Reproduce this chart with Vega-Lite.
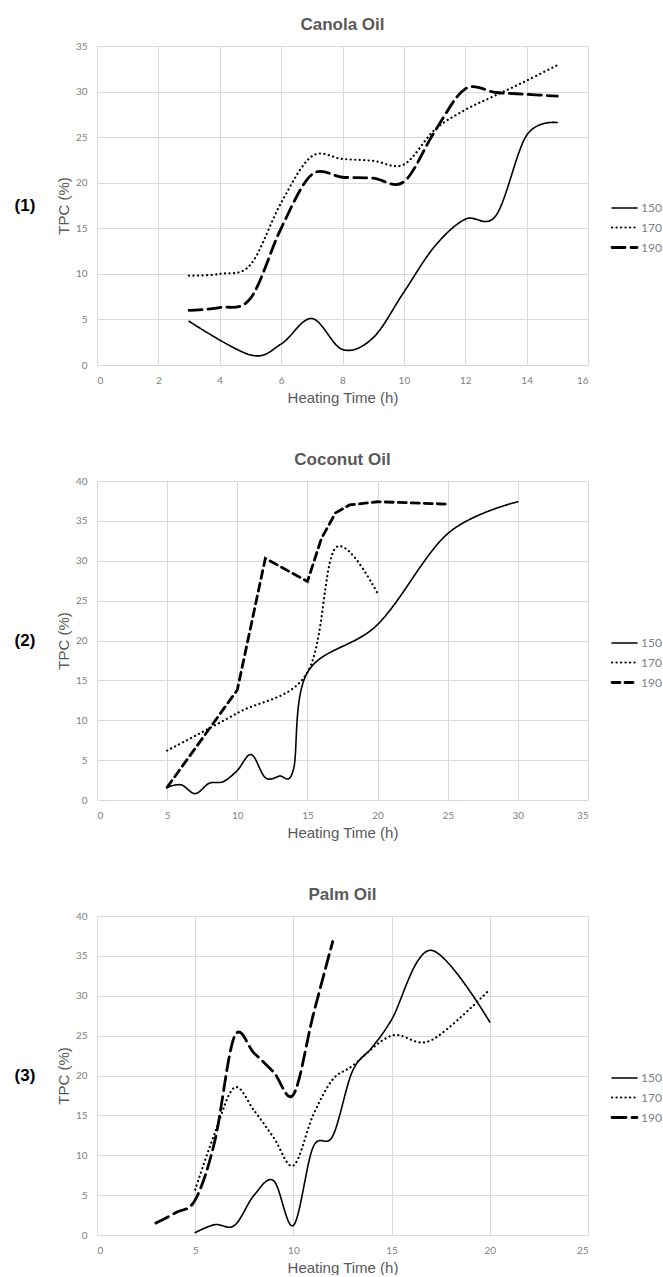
{
  "$schema": "https://vega.github.io/schema/vega-lite/v6.json",
  "padding": {"left": 0, "top": 16, "right": 0, "bottom": 0},
  "background": "white",
  "config": {
    "view": {"stroke": null},
    "font": "Liberation Sans",
    "axis": {"grid": true, "gridColor": "#d9d9d9", "gridWidth": 1, "domain": false, "ticks": false, "tickSize": 0, "labelColor": "#808080", "labelFont": "Lato", "labelFontSize": 10, "titleColor": "#595959", "titleFont": "Liberation Sans", "titleFontSize": 15, "titleFontWeight": "normal"},
    "axisX": {"labelPadding": 10, "titlePadding": 5},
    "axisY": {"labelPadding": 10, "titlePadding": 4},
    "legend": {"orient": "none", "legendX": 516, "legendY": 151, "title": null, "symbolType": "M-1.25,0H1.25", "symbolSize": 400, "symbolStrokeWidth": 2.5, "symbolStrokeColor": "#000000", "symbolFillColor": "transparent", "labelFont": "Lato", "labelFontSize": 12, "labelColor": "#808080", "rowPadding": 2, "labelOffset": 5},
    "title": {"font": "Liberation Sans", "fontSize": 17, "fontWeight": "bold", "color": "#595959", "anchor": "middle", "offset": 7}
  },
  "datasets": {
    "canola": [
      {"time": 3, "tpc": 4.8, "temp": "150"}, {"time": 5, "tpc": 1.1, "temp": "150"}, {"time": 6, "tpc": 2.3, "temp": "150"}, {"time": 7, "tpc": 5.1, "temp": "150"}, {"time": 8, "tpc": 1.7, "temp": "150"}, {"time": 9, "tpc": 3.0, "temp": "150"}, {"time": 10, "tpc": 8.0, "temp": "150"}, {"time": 11, "tpc": 13.0, "temp": "150"}, {"time": 12, "tpc": 16.0, "temp": "150"}, {"time": 13, "tpc": 16.4, "temp": "150"}, {"time": 14, "tpc": 25.2, "temp": "150"}, {"time": 15, "tpc": 26.6, "temp": "150"},
      {"time": 3, "tpc": 9.8, "temp": "170"}, {"time": 4, "tpc": 10.0, "temp": "170"}, {"time": 5, "tpc": 11.0, "temp": "170"}, {"time": 6, "tpc": 17.8, "temp": "170"}, {"time": 7, "tpc": 22.9, "temp": "170"}, {"time": 8, "tpc": 22.6, "temp": "170"}, {"time": 9, "tpc": 22.4, "temp": "170"}, {"time": 10, "tpc": 22.0, "temp": "170"}, {"time": 11, "tpc": 25.8, "temp": "170"}, {"time": 12, "tpc": 28.0, "temp": "170"}, {"time": 13, "tpc": 29.6, "temp": "170"}, {"time": 14, "tpc": 31.2, "temp": "170"}, {"time": 15, "tpc": 32.9, "temp": "170"},
      {"time": 3, "tpc": 6.0, "temp": "190"}, {"time": 4, "tpc": 6.3, "temp": "190"}, {"time": 5, "tpc": 7.3, "temp": "190"}, {"time": 6, "tpc": 15.0, "temp": "190"}, {"time": 7, "tpc": 20.9, "temp": "190"}, {"time": 8, "tpc": 20.6, "temp": "190"}, {"time": 9, "tpc": 20.5, "temp": "190"}, {"time": 10, "tpc": 20.1, "temp": "190"}, {"time": 11, "tpc": 25.6, "temp": "190"}, {"time": 12, "tpc": 30.3, "temp": "190"}, {"time": 13, "tpc": 29.9, "temp": "190"}, {"time": 14, "tpc": 29.7, "temp": "190"}, {"time": 15, "tpc": 29.5, "temp": "190"}
    ],
    "coconut": [
      {"time": 5, "tpc": 1.6, "temp": "150"}, {"time": 6, "tpc": 1.9, "temp": "150"}, {"time": 7, "tpc": 0.8, "temp": "150"}, {"time": 8, "tpc": 2.1, "temp": "150"}, {"time": 9, "tpc": 2.3, "temp": "150"}, {"time": 10, "tpc": 3.7, "temp": "150"}, {"time": 11, "tpc": 5.7, "temp": "150"}, {"time": 12, "tpc": 2.8, "temp": "150"}, {"time": 13, "tpc": 3.0, "temp": "150"}, {"time": 14, "tpc": 3.8, "temp": "150"}, {"time": 15, "tpc": 16.0, "temp": "150"}, {"time": 20, "tpc": 22.0, "temp": "150"}, {"time": 25, "tpc": 33.4, "temp": "150"}, {"time": 30, "tpc": 37.4, "temp": "150"},
      {"time": 5, "tpc": 6.2, "temp": "170"}, {"time": 10, "tpc": 10.9, "temp": "170"}, {"time": 15, "tpc": 16.0, "temp": "170"}, {"time": 17, "tpc": 31.6, "temp": "170"}, {"time": 20, "tpc": 25.9, "temp": "170"},
      {"time": 5, "tpc": 1.6, "temp": "190"}, {"time": 10, "tpc": 13.8, "temp": "190"}, {"time": 12, "tpc": 30.3, "temp": "190"}, {"time": 15, "tpc": 27.4, "temp": "190"}, {"time": 16, "tpc": 32.8, "temp": "190"}, {"time": 17, "tpc": 36.0, "temp": "190"}, {"time": 18, "tpc": 37.0, "temp": "190"}, {"time": 20, "tpc": 37.4, "temp": "190"}, {"time": 25, "tpc": 37.1, "temp": "190"}
    ],
    "palm": [
      {"time": 5, "tpc": 0.3, "temp": "150"}, {"time": 6, "tpc": 1.3, "temp": "150"}, {"time": 7, "tpc": 1.2, "temp": "150"}, {"time": 8, "tpc": 5.0, "temp": "150"}, {"time": 9, "tpc": 6.8, "temp": "150"}, {"time": 10, "tpc": 1.2, "temp": "150"}, {"time": 11, "tpc": 11.0, "temp": "150"}, {"time": 12, "tpc": 12.4, "temp": "150"}, {"time": 13, "tpc": 20.5, "temp": "150"}, {"time": 14, "tpc": 23.5, "temp": "150"}, {"time": 15, "tpc": 27.0, "temp": "150"}, {"time": 17, "tpc": 35.7, "temp": "150"}, {"time": 20, "tpc": 26.7, "temp": "150"},
      {"time": 5, "tpc": 5.7, "temp": "170"}, {"time": 6, "tpc": 12.8, "temp": "170"}, {"time": 7, "tpc": 18.5, "temp": "170"}, {"time": 8, "tpc": 15.6, "temp": "170"}, {"time": 9, "tpc": 12.2, "temp": "170"}, {"time": 10, "tpc": 8.7, "temp": "170"}, {"time": 11, "tpc": 15.0, "temp": "170"}, {"time": 12, "tpc": 19.5, "temp": "170"}, {"time": 13, "tpc": 21.2, "temp": "170"}, {"time": 15, "tpc": 25.0, "temp": "170"}, {"time": 17, "tpc": 24.4, "temp": "170"}, {"time": 20, "tpc": 30.8, "temp": "170"},
      {"time": 3, "tpc": 1.5, "temp": "190"}, {"time": 4, "tpc": 2.8, "temp": "190"}, {"time": 5, "tpc": 4.4, "temp": "190"}, {"time": 6, "tpc": 11.8, "temp": "190"}, {"time": 7, "tpc": 24.9, "temp": "190"}, {"time": 8, "tpc": 22.8, "temp": "190"}, {"time": 9, "tpc": 20.4, "temp": "190"}, {"time": 10, "tpc": 17.6, "temp": "190"}, {"time": 11, "tpc": 27.5, "temp": "190"}, {"time": 12, "tpc": 36.8, "temp": "190"}
    ]
  },
  "spacing": 46,
  "resolve": {"scale": {"strokeDash": "independent", "strokeWidth": "independent"}, "legend": {"strokeDash": "independent", "strokeWidth": "independent"}},
  "vconcat": [
    {
      "spacing": 6,
      "resolve": {"scale": {"strokeDash": "independent", "strokeWidth": "independent"}, "legend": {"strokeDash": "independent", "strokeWidth": "independent"}},
      "hconcat": [
        {"width": 50, "height": 319, "data": {"values": [{"label": "(1)"}]}, "mark": {"type": "text", "font": "Liberation Sans", "fontSize": 17, "fontWeight": "bold", "color": "#000000"}, "encoding": {"text": {"field": "label"}}},
        {
          "title": {"text": "Canola Oil"},
          "width": 491, "height": 319,
          "data": {"name": "canola"},
          "mark": {"type": "line", "interpolate": "cardinal", "strokeCap": "round", "color": "#000000"},
          "encoding": {
            "x": {"field": "time", "type": "quantitative", "scale": {"domain": [0, 16], "nice": false}, "axis": {"title": "Heating Time (h)", "values": [0, 2, 4, 6, 8, 10, 12, 14, 16]}},
            "y": {"field": "tpc", "type": "quantitative", "scale": {"domain": [0, 35], "nice": false}, "axis": {"title": "TPC (%)", "values": [0, 5, 10, 15, 20, 25, 30, 35]}},
            "strokeDash": {"field": "temp", "type": "nominal", "scale": {"domain": ["150", "170", "190"], "range": [[1, 0], [0.1, 4.4], [13, 6]]}, "legend": {"encode": {"symbols": {"update": {"strokeCap": {"value": "round"}}}}}},
            "strokeWidth": {"field": "temp", "type": "ordinal", "scale": {"domain": ["150", "170", "190"], "range": [1.6, 2.8, 2.4]}, "legend": null}
          }
        }
      ]
    },
    {
      "spacing": 6,
      "resolve": {"scale": {"strokeDash": "independent", "strokeWidth": "independent"}, "legend": {"strokeDash": "independent", "strokeWidth": "independent"}},
      "hconcat": [
        {"width": 50, "height": 319, "data": {"values": [{"label": "(2)"}]}, "mark": {"type": "text", "font": "Liberation Sans", "fontSize": 17, "fontWeight": "bold", "color": "#000000"}, "encoding": {"text": {"field": "label"}}},
        {
          "title": {"text": "Coconut Oil"},
          "width": 491, "height": 319,
          "data": {"name": "coconut"},
          "encoding": {
            "x": {"field": "time", "type": "quantitative", "scale": {"domain": [0, 35], "nice": false}, "axis": {"title": "Heating Time (h)", "values": [0, 5, 10, 15, 20, 25, 30, 35]}},
            "y": {"field": "tpc", "type": "quantitative", "scale": {"domain": [0, 40], "nice": false}, "axis": {"title": "TPC (%)", "values": [0, 5, 10, 15, 20, 25, 30, 35, 40]}},
            "strokeDash": {"field": "temp", "type": "nominal", "scale": {"domain": ["150", "170", "190"], "range": [[1, 0], [0.1, 4.4], [8, 5]]}, "legend": {"encode": {"symbols": {"update": {"strokeCap": {"value": "round"}}}}}},
            "strokeWidth": {"field": "temp", "type": "ordinal", "scale": {"domain": ["150", "170", "190"], "range": [1.6, 2.8, 2.4]}, "legend": null}
          },
          "layer": [
            {"transform": [{"filter": "datum.temp != '190'"}], "mark": {"type": "line", "interpolate": "cardinal", "strokeCap": "round", "color": "#000000"}},
            {"transform": [{"filter": "datum.temp == '190'"}], "mark": {"type": "line", "interpolate": "linear", "strokeCap": "round", "color": "#000000"}}
          ]
        }
      ]
    },
    {
      "spacing": 6,
      "resolve": {"scale": {"strokeDash": "independent", "strokeWidth": "independent"}, "legend": {"strokeDash": "independent", "strokeWidth": "independent"}},
      "hconcat": [
        {"width": 50, "height": 319, "data": {"values": [{"label": "(3)"}]}, "mark": {"type": "text", "font": "Liberation Sans", "fontSize": 17, "fontWeight": "bold", "color": "#000000"}, "encoding": {"text": {"field": "label"}}},
        {
          "title": {"text": "Palm Oil"},
          "width": 491, "height": 319,
          "data": {"name": "palm"},
          "mark": {"type": "line", "interpolate": "cardinal", "strokeCap": "round", "color": "#000000"},
          "encoding": {
            "x": {"field": "time", "type": "quantitative", "scale": {"domain": [0, 25], "nice": false}, "axis": {"title": "Heating Time (h)", "values": [0, 5, 10, 15, 20, 25]}},
            "y": {"field": "tpc", "type": "quantitative", "scale": {"domain": [0, 40], "nice": false}, "axis": {"title": "TPC (%)", "values": [0, 5, 10, 15, 20, 25, 30, 35, 40]}},
            "strokeDash": {"field": "temp", "type": "nominal", "scale": {"domain": ["150", "170", "190"], "range": [[1, 0], [0.1, 4.4], [14, 6]]}, "legend": {"encode": {"symbols": {"update": {"strokeCap": {"value": "round"}}}}}},
            "strokeWidth": {"field": "temp", "type": "ordinal", "scale": {"domain": ["150", "170", "190"], "range": [1.6, 2.8, 2.4]}, "legend": null}
          }
        }
      ]
    }
  ]
}
